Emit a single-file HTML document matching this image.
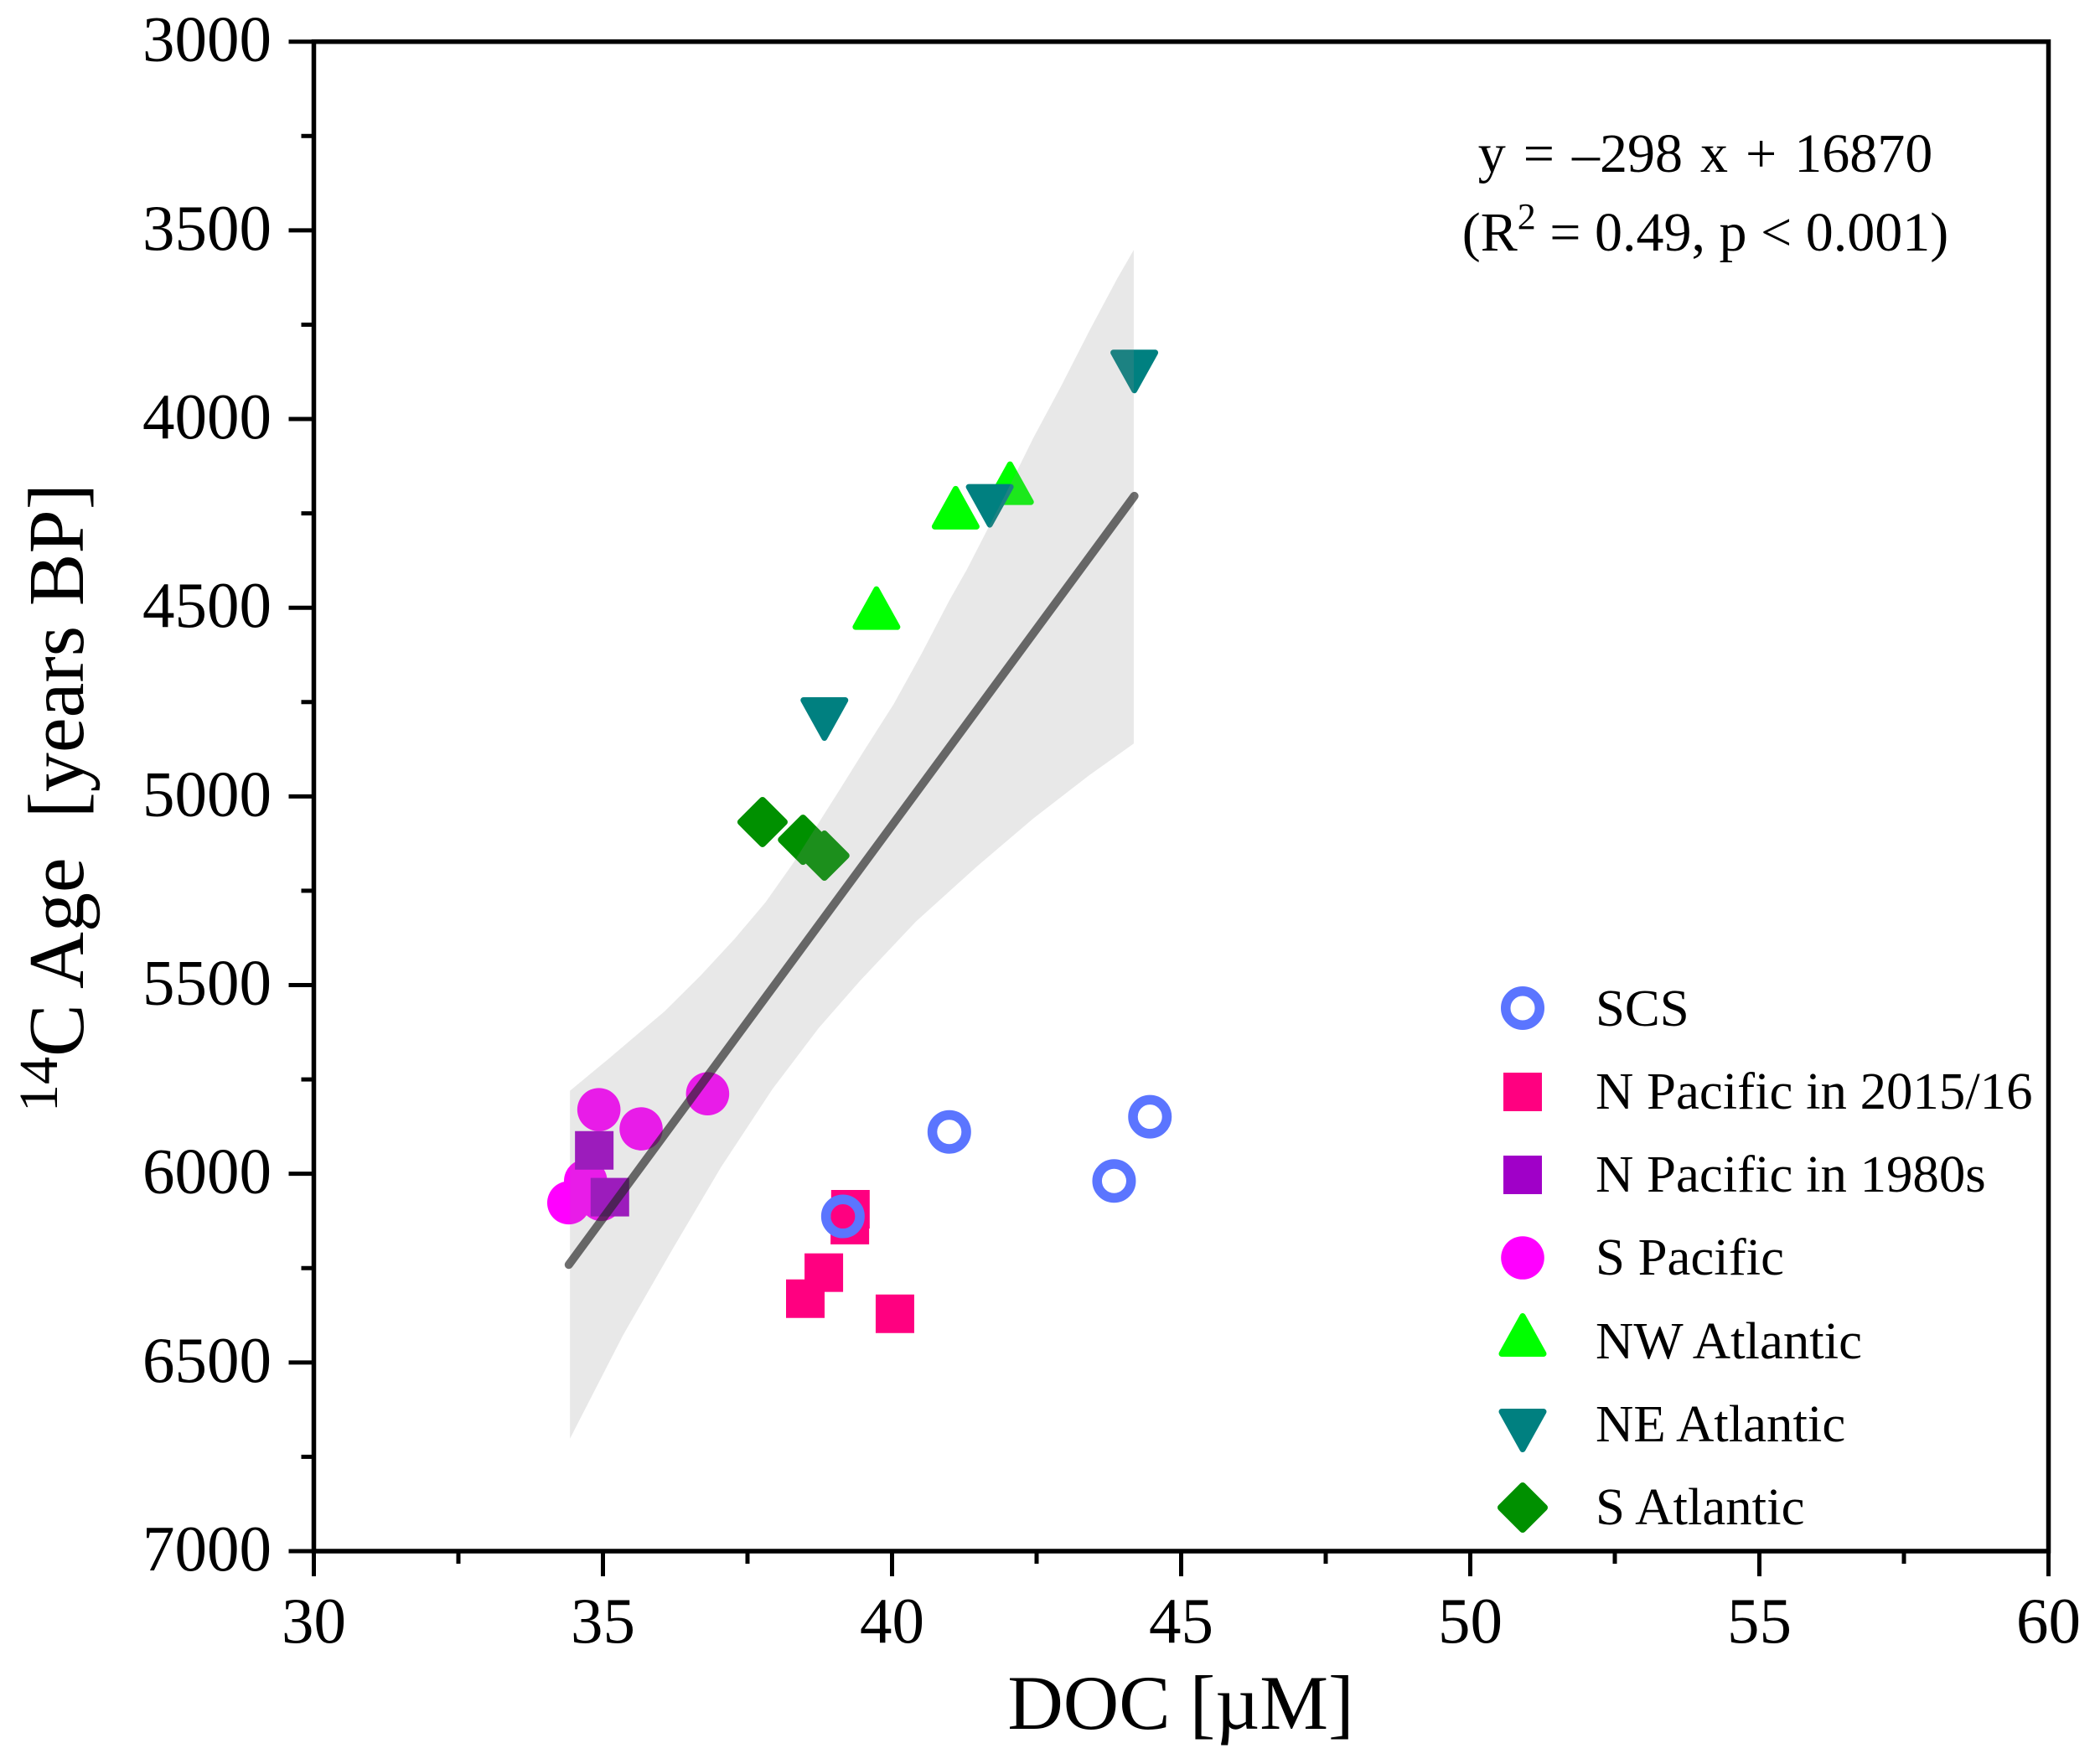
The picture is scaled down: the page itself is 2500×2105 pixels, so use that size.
<!DOCTYPE html>
<html lang="en">
<head>
<meta charset="utf-8">
<title>14C Age vs DOC</title>
<style>
  html, body { margin: 0; padding: 0; background: #fff; }
  svg { display: block; }
  text { font-family: "Liberation Serif", serif; fill: #000; }
</style>
</head>
<body>
<svg id="chart" width="2500" height="2105" viewBox="0 0 2500 2105" xmlns="http://www.w3.org/2000/svg">
  <rect width="2500" height="2105" fill="#fff"/>
  <g id="marks"></g>
  <g id="fit"></g>
  <g id="axes"></g>

  <text x="1409" y="2063" font-size="92" text-anchor="middle">DOC [µM]</text>
  <text transform="translate(99 1327) rotate(-90)" font-size="94"><tspan font-size="66" dy="-31">14</tspan><tspan dy="31">C Age</tspan><tspan xml:space="preserve">  [years BP]</tspan></text>

  <g>
    <text x="2035" y="205" font-size="66" text-anchor="middle" word-spacing="4.5" xml:space="preserve">y = –298 x + 16870</text>
    <text x="2035" y="299" font-size="66" text-anchor="middle">(R<tspan font-size="44" dy="-26">2</tspan><tspan dy="26"> = 0.49, p &lt; 0.001)</tspan></text>
  </g>

  <g id="legend">
    <text x="1904" y="1224" font-size="62.8">SCS</text>
    <text x="1904" y="1323" font-size="62.8">N Pacific in 2015/16</text>
    <text x="1904" y="1422" font-size="62.8">N Pacific in 1980s</text>
    <text x="1904" y="1521" font-size="62.8">S Pacific</text>
    <text x="1904" y="1621" font-size="62.8">NW Atlantic</text>
    <text x="1904" y="1720" font-size="62.8">NE Atlantic</text>
    <text x="1904" y="1819" font-size="62.8">S Atlantic</text>
  </g>
</svg>
<script>
// ---- data ----
const xTicks = [30, 35, 40, 45, 50, 55, 60];
const xMinorTicks = [32.5, 37.5, 42.5, 47.5, 52.5, 57.5];
const yTicks = [3000, 3500, 4000, 4500, 5000, 5500, 6000, 6500, 7000];
const yMinorTicks = [3250, 3750, 4250, 4750, 5250, 5750, 6250, 6750];

const scsDoc = [39.15, 40.99, 43.84, 44.46];
const scsAge = [6113, 5889, 6019, 5849];
const nPacific2015Doc = [39.28, 39.27, 38.82, 38.50, 40.05];
const nPacific2015Age = [6094, 6136, 6262, 6331, 6371];
const nPacific1980Doc = [34.85, 35.12];
const nPacific1980Age = [5938, 6062];
const sPacificDoc = [34.41, 34.70, 34.97, 34.93, 35.66, 36.81];
const sPacificAge = [6077, 6019, 6068, 5830, 5881, 5788];
const nwAtlanticDoc = [39.73, 41.10, 42.04];
const nwAtlanticAge = [4501, 4235, 4170];
const neAtlanticDoc = [38.83, 41.69, 44.19];
const neAtlanticAge = [4795, 4230, 3874];
const sAtlanticDoc = [37.76, 38.46, 38.83];
const sAtlanticAge = [5068, 5115, 5157];

const fitDoc = [34.41, 44.19];
const fitAge = [6241, 4204];
const bandUpperDoc = [34.43, 35.10, 36.07, 36.70, 37.28, 37.81, 38.29, 39.07, 39.54, 40.03, 40.51, 40.99, 41.29, 41.96, 42.44, 42.93, 43.41, 43.89, 44.18];
const bandUpperAge = [5780, 5695, 5569, 5473, 5377, 5281, 5177, 4988, 4873, 4755, 4622, 4481, 4400, 4200, 4051, 3911, 3767, 3629, 3552];
const bandLowerDoc = [44.18, 43.41, 42.44, 41.48, 40.41, 39.45, 38.73, 37.93, 37.04, 36.21, 35.35, 34.57, 34.43];
const bandLowerAge = [4860, 4944, 5059, 5184, 5332, 5488, 5614, 5776, 5983, 6198, 6427, 6660, 6702];

// ---- axis functions ----
const X0 = 374.5, X1 = 2444.5, Y0 = 49.7, Y1 = 1851;
const xScale = v => X0 + (v - 30) * (X1 - X0) / 30;
const yScale = v => Y0 + (v - 3000) * (Y1 - Y0) / 4000;

const NS = 'http://www.w3.org/2000/svg';
function make(tag, parent, attrs) {
  const el = document.createElementNS(NS, tag);
  for (const k in attrs) el.setAttribute(k, attrs[k]);
  parent.appendChild(el);
  return el;
}

function drawMarker(parent, shape, color, cx, cy) {
  if (shape === 'ring') {
    return make('circle', parent, {cx: cx, cy: cy, r: 20.25, fill: 'none', stroke: color, 'stroke-width': 11.5});
  }
  if (shape === 'circle') {
    return make('circle', parent, {cx: cx, cy: cy, r: 25.8, fill: color});
  }
  if (shape === 'square') {
    return make('rect', parent, {x: cx - 23, y: cy - 23, width: 46, height: 46, fill: color});
  }
  let pts;
  if (shape === 'up') {
    pts = [[cx, cy - 22.5], [cx + 25, cy + 22.5], [cx - 25, cy + 22.5]];
  } else if (shape === 'down') {
    pts = [[cx, cy + 22.5], [cx + 25, cy - 22.5], [cx - 25, cy - 22.5]];
  } else {
    pts = [[cx, cy - 26], [cx + 26, cy], [cx, cy + 26], [cx - 26, cy]];
  }
  return make('polygon', parent, {
    points: pts.map(p => p.join(',')).join(' '),
    fill: color, stroke: color, 'stroke-width': shape === 'diamond' ? 8 : 7, 'stroke-linejoin': 'round'
  });
}

// ---- marks ----
const marksGroup = document.getElementById('marks');
function drawSeries(slug, shape, color, xs, ys) {
  const g = make('g', marksGroup, {});
  
  
  xs.forEach((x, i) => {
    const m = drawMarker(g, shape, color, xScale(x), yScale(ys[i]));
    
    
  });
}
drawSeries('n-pacific-2015', 'square', '#ff0080', nPacific2015Doc, nPacific2015Age);
drawSeries('scs', 'ring', '#5b75ff', scsDoc, scsAge);
drawSeries('s-pacific', 'circle', '#ff00ff', sPacificDoc, sPacificAge);
drawSeries('n-pacific-1980s', 'square', '#a000c8', nPacific1980Doc, nPacific1980Age);
drawSeries('nw-atlantic', 'up', '#00ff00', nwAtlanticDoc, nwAtlanticAge);
drawSeries('ne-atlantic', 'down', '#008080', neAtlanticDoc, neAtlanticAge);
drawSeries('s-atlantic', 'diamond', '#009000', sAtlanticDoc, sAtlanticAge);

// ---- regression band + line ----
const fitGroup = document.getElementById('fit');
const bandPts = bandUpperDoc.map((d, i) => xScale(d) + ',' + yScale(bandUpperAge[i]))
  .concat(bandLowerDoc.map((d, i) => xScale(d) + ',' + yScale(bandLowerAge[i])));
const band = make('polygon', fitGroup, {points: bandPts.join(' '), fill: 'rgb(140,140,140)', 'fill-opacity': 0.2});


const fitLine = make('line', fitGroup, {
  x1: xScale(fitDoc[0]), y1: yScale(fitAge[0]), x2: xScale(fitDoc[1]), y2: yScale(fitAge[1]),
  stroke: 'rgb(37,37,37)', 'stroke-opacity': 0.667, 'stroke-width': 10, 'stroke-linecap': 'round'
});



// ---- axes ----
const axesGroup = document.getElementById('axes');
const frame = make('rect', axesGroup, {x: X0, y: Y0, width: X1 - X0, height: Y1 - Y0, fill: 'none', stroke: '#000', 'stroke-width': 5.5});



xTicks.forEach(v => {
  const t = make('line', axesGroup, {x1: xScale(v), x2: xScale(v), y1: Y1, y2: Y1 + 30, stroke: '#000', 'stroke-width': 5});
  
  
  const l = make('text', axesGroup, {x: xScale(v), y: 1960, 'font-size': 77, 'text-anchor': 'middle'});
  l.textContent = v;
  
  
});
xMinorTicks.forEach(v => {
  const t = make('line', axesGroup, {x1: xScale(v), x2: xScale(v), y1: Y1, y2: Y1 + 15, stroke: '#000', 'stroke-width': 5});
  
  
});
yTicks.forEach(v => {
  const t = make('line', axesGroup, {x1: X0 - 30, x2: X0, y1: yScale(v), y2: yScale(v), stroke: '#000', 'stroke-width': 5});
  
  
  const l = make('text', axesGroup, {x: 324, y: yScale(v) + 23, 'font-size': 77, 'text-anchor': 'end'});
  l.textContent = v;
  
  
});
yMinorTicks.forEach(v => {
  const t = make('line', axesGroup, {x1: X0 - 15, x2: X0, y1: yScale(v), y2: yScale(v), stroke: '#000', 'stroke-width': 5});
  
  
});

// ---- legend markers ----
const legendGroup = document.getElementById('legend');
const legendSlugs = ['scs', 'n-pacific-2015', 'n-pacific-1980s', 's-pacific', 'nw-atlantic', 'ne-atlantic', 's-atlantic'];
const legendShapes = ['ring', 'square', 'square', 'circle', 'up', 'down', 'diamond'];
const legendColors = ['#5b75ff', '#ff0080', '#a000c8', '#ff00ff', '#00ff00', '#008080', '#009000'];
const legendCenters = [1203, 1303, 1402, 1501, 1593, 1707, 1799];
legendSlugs.forEach((slug, i) => {
  const m = drawMarker(legendGroup, legendShapes[i], legendColors[i], 1817, legendCenters[i]);
  
  
});
</script>
</body>
</html>
